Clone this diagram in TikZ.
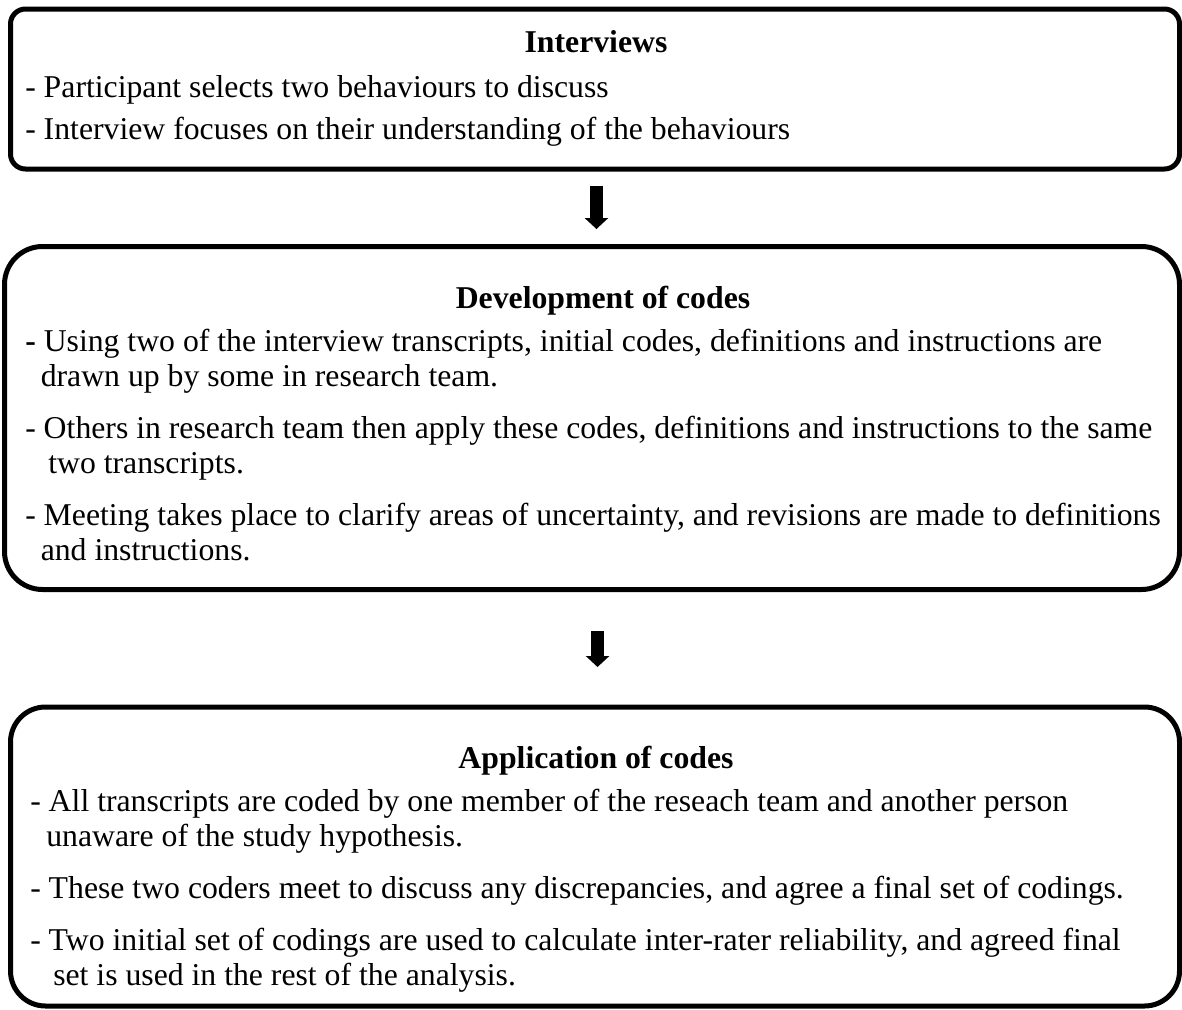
\documentclass[tikz,border=0pt]{standalone}
\usepackage{fontspec}
\setmainfont{Liberation Serif}
\usetikzlibrary{arrows.meta,calc}
\begin{document}
\begin{tikzpicture}[x=0.75pt,y=-0.75pt,
  boxstyle/.style={draw=black,line width=3.75pt,inner sep=0pt,outer sep=0pt,fill=white},
  txt/.style={anchor=base west,inner sep=0pt,font=\fontsize{23.8}{28}\selectfont},
  ttl/.style={anchor=base,inner sep=0pt,font=\fontsize{23.8}{28}\selectfont\bfseries},
  blockarrow/.style={line width=9.75pt,-{Triangle[width=17.25pt,length=8.25pt]}}]
\useasboundingbox (0,0) rectangle (1182,1010);
% boxes
\node[boxstyle,rounded corners=11.25pt,minimum width=876.75pt,minimum height=120pt] (b1) at (595,89) {};
\node[boxstyle,rounded corners=28.5pt,minimum width=881.25pt,minimum height=257.25pt] (b2) at (592,418) {};
\node[boxstyle,rounded corners=26.25pt,minimum width=876.75pt,minimum height=224.25pt] (b3) at (595,856.5) {};
% arrows
\draw[blockarrow,shorten <=12.75pt,shorten >=13.1pt] ([xshift=1.1pt]b1.south) -- ([xshift=1.1pt]b1.south |- b2.north);
\draw[blockarrow,shorten <=31.1pt,shorten >=30pt] ([xshift=1.9pt]b3.north |- b2.south) -- ([xshift=1.9pt]b3.north);
% box 1 text
\node[ttl] (t1) at (596,52) {Interviews};
\node[txt] (t1a) at (25,97) {- Participant selects two behaviours to discuss};
\node[txt] (t1b) at (25,139) {- Interview focuses on their understanding of the behaviours};
% box 2 text
\node[ttl] (t2) at (603,308) {Development of codes};
\node[txt] (t2a) at (25,351) {\textbf{-} Using two of the interview transcripts, initial codes, definitions and instructions are};
\node[txt] (t2b) at (40.5,386) {drawn up by some in research team.};
\node[txt] (t2c) at (25,438) {- Others in research team then apply these codes, definitions and instructions to the same};
\node[txt] (t2d) at (48,473) {two transcripts.};
\node[txt] (t2e) at (25,525) {- Meeting takes place to clarify areas of uncertainty, and revisions are made to definitions};
\node[txt] (t2f) at (40.5,560) {and instructions.};
% box 3 text
\node[ttl] (t3) at (596,768) {Application of codes};
\node[txt] (t3a) at (30,811) {- All transcripts are coded by one member of the reseach team and another person};
\node[txt] (t3b) at (46,846) {unaware of the study hypothesis.};
\node[txt] (t3c) at (30,898) {- These two coders meet to discuss any discrepancies, and agree a final set of codings.};
\node[txt] (t3d) at (30,950) {- Two initial set of codings are used to calculate inter-rater reliability, and agreed final};
\node[txt] (t3e) at (53,985) {set is used in the rest of the analysis.};
\end{tikzpicture}
\end{document}
